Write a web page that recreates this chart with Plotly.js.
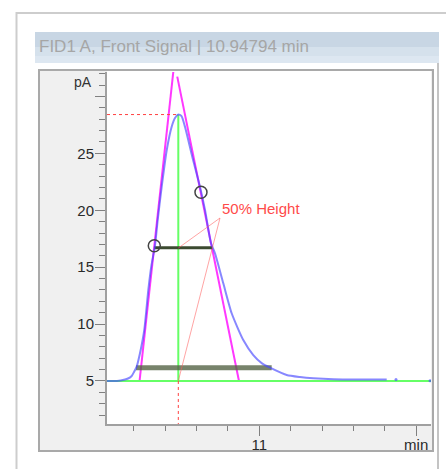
<!DOCTYPE html>
<html>
<head>
<meta charset="utf-8">
<script src="https://cdn.plot.ly/plotly-3.0.1.min.js"></script>
<style>html,body{margin:0;padding:0;background:#fff;}#chart{width:446px;height:469px;}</style>
</head>
<body>
<div id="chart"></div>
<script>
// ---- data ----
const rt = [10.5147, 10.5465, 10.5720, 10.5816, 10.5934, 10.6007, 10.6093, 10.6198, 10.6335, 10.6463, 10.6565, 10.6676, 10.6762, 10.6890, 10.7051, 10.7208, 10.7314, 10.7419, 10.7521, 10.7632, 10.7865, 10.8110, 10.8270, 10.8461, 10.8588, 10.8853, 10.9120, 10.9490, 10.9809, 11.0086, 11.0341, 11.0873, 11.1297, 11.1721, 11.2358, 11.3209, 11.4060];
const signal = [5.00, 5.00, 5.13, 5.22, 5.44, 5.79, 6.26, 7.43, 9.48, 12.99, 15.19, 16.89, 19.14, 22.07, 25.29, 27.34, 28.10, 28.41, 28.28, 27.34, 24.70, 22.07, 20.02, 17.10, 16.22, 13.58, 10.95, 8.60, 7.28, 6.55, 6.17, 5.53, 5.35, 5.24, 5.15, 5.13, 5.13];
const tailRT = [11.4356, 11.5440];
const tailSignal = [5.13, 5.02];

const baselineRT = [10.5147, 11.5472];
const baselineSignal = [5.0, 5.0];
const apexRT = 10.7419;
const apexSignal = 28.41;

const tangentLeftRT = [10.6185, 10.7301];
const tangentLeftSignal = [5.0, 33.2];
const tangentRightRT = [10.7386, 10.9353];
const tangentRightSignal = [31.74, 5.0];

const halfHeightRT = [10.6654, 10.8502];
const halfHeightSignal = [16.71, 16.71];
const baseWidthRT = [10.6071, 11.0395];
const baseWidthSignal = [6.17, 6.17];

const inflectionRT = [10.6654, 10.8142];
const inflectionSignal = [16.89, 21.58];

const labelRT = [10.8748, 10.7419, 10.8748, 10.7419];
const labelSignal = [19.32, 16.68, 19.32, 5.0];
const labelText = '50% Height';

const yTickVals = [5, 10, 15, 20, 25, 30];
const yTickText = ['5', '10', '15', '20', '25', ''];
const xTickVals = [11, 11.5];
const xTickText = ['11', 'min'];
const titleText = 'FID1 A, Front Signal | 10.94794 min';
const yUnit = 'pA';

// ---- layout helpers (pixel -> paper) ----
const L = 107, R = 431, T = 72, B = 424;
const W = R - L, H = B - T;
const px = v => (v - L) / W;
const py = v => (B - v) / H;
function rect(x0, y0, x1, y1, fill, line, lw) {
  return {type: 'rect', xref: 'paper', yref: 'paper', layer: 'below',
    x0: px(x0), x1: px(x1), y0: py(y1), y1: py(y0),
    fillcolor: fill, line: {color: line || 'rgba(0,0,0,0)', width: lw || 0}};
}
function vline(x, y0, y1, color, lw) {
  return {type: 'line', xref: 'paper', yref: 'paper', layer: 'below',
    x0: px(x), x1: px(x), y0: py(y1), y1: py(y0), line: {color: color, width: lw}};
}

const shapes = [
  rect(16.5, 13, 460, 480, '#ffffff', '#cdcdcd', 2),
  vline(438, 63, 470, '#c4c4c4', 2),
  rect(35, 32, 439, 63, '#c8d6e4'),
  rect(35, 47, 439, 63, '#d5e1ec'),
  rect(35, 56, 439, 63, '#dde7f1'),
  rect(39, 70, 433, 451, '#f0f0f0', '#a9a9a9', 2),
  rect(107, 71, 431, 424, '#ffffff')
];

const traces = [
  {x: tangentLeftRT, y: tangentLeftSignal, mode: 'lines', line: {color: '#ff38ff', width: 2}},
  {x: tangentRightRT, y: tangentRightSignal, mode: 'lines', line: {color: '#ff38ff', width: 2}},
  {x: baselineRT, y: baselineSignal, mode: 'lines', line: {color: '#66ff66', width: 2}},
  {x: [apexRT, apexRT], y: [baselineSignal[0], apexSignal], mode: 'lines', line: {color: '#66ff66', width: 2}},
  {x: baseWidthRT, y: baseWidthSignal, mode: 'lines', line: {color: 'rgba(85,100,70,0.8)', width: 5}},
  {x: halfHeightRT, y: halfHeightSignal, mode: 'lines', line: {color: '#3b4a30', width: 3}},
  {x: rt, y: signal, mode: 'lines', line: {color: 'rgba(70,70,255,0.65)', width: 2, shape: 'spline', smoothing: 0.6}},
  {x: tailRT, y: tailSignal, mode: 'markers', marker: {color: 'rgba(70,70,255,0.65)', size: 3}},
  {x: [baselineRT[0], apexRT], y: [apexSignal, apexSignal], mode: 'lines', line: {color: '#ff4040', width: 1, dash: 'dot'}},
  {x: [apexRT, apexRT], y: [baselineSignal[0], 0], mode: 'lines', line: {color: '#ff4040', width: 1, dash: 'dot'}},
  {x: labelRT.slice(0, 2), y: labelSignal.slice(0, 2), mode: 'lines', line: {color: 'rgba(255,90,90,0.55)', width: 1}},
  {x: labelRT.slice(2, 4), y: labelSignal.slice(2, 4), mode: 'lines', line: {color: 'rgba(255,90,90,0.55)', width: 1}},
  {x: inflectionRT, y: inflectionSignal, mode: 'markers', marker: {symbol: 'circle-open', size: 12, color: '#444444', line: {width: 1.5, color: '#444444'}}}
];

const tickFont = {family: 'Liberation Sans, Arial, sans-serif', size: 15, color: '#2a2a2a'};

const layout = {
  width: 446, height: 469,
  margin: {l: L, r: 446 - R, t: T, b: 469 - B, pad: 0},
  paper_bgcolor: '#ffffff',
  plot_bgcolor: 'rgba(0,0,0,0)',
  showlegend: false,
  shapes: shapes,
  xaxis: {
    range: [10.5147, 11.5472], showgrid: false, zeroline: false,
    showline: true, linecolor: '#a0a0a0', linewidth: 2,
    tickmode: 'array', tickvals: xTickVals, ticktext: xTickText,
    ticks: 'outside', ticklen: 10, tickcolor: '#808080', tickwidth: 1,
    ticklabelstandoff: -4,
    tickfont: tickFont,
    minor: {dtick: 0.1, tick0: 10.5, ticks: 'outside', ticklen: 5, tickcolor: '#808080', tickwidth: 1, showgrid: false}
  },
  yaxis: {
    range: [1.22, 32.15], showgrid: false, zeroline: false,
    showline: true, linecolor: '#a0a0a0', linewidth: 2,
    tickmode: 'array', tickvals: yTickVals, ticktext: yTickText,
    ticks: 'outside', ticklen: 10, tickcolor: '#808080', tickwidth: 1,
    ticklabelstandoff: -2,
    tickfont: tickFont,
    minor: {dtick: 1, tick0: 0, ticks: 'outside', ticklen: 6, tickcolor: '#808080', tickwidth: 1, showgrid: false}
  },
  annotations: [
    {xref: 'paper', yref: 'paper', x: px(37), y: py(47), xanchor: 'left', yanchor: 'middle',
     text: titleText, showarrow: false, font: {family: 'Liberation Sans, Arial, sans-serif', size: 17, color: '#a6a6a6'}},
    {xref: 'paper', yref: 'paper', x: px(94), y: py(81.5), xanchor: 'right', yanchor: 'middle',
     text: yUnit, showarrow: false, font: {family: 'Liberation Sans, Arial, sans-serif', size: 14, color: '#333333'}},
    {xref: 'x', yref: 'y', x: 10.876, y: 20.2, xanchor: 'left', yanchor: 'middle',
     text: labelText, showarrow: false, font: {family: 'Liberation Sans, Arial, sans-serif', size: 15, color: '#ff4a4a'}}
  ]
};

Plotly.newPlot('chart', traces, layout, {displayModeBar: false, staticPlot: true});
</script>
</body>
</html>
